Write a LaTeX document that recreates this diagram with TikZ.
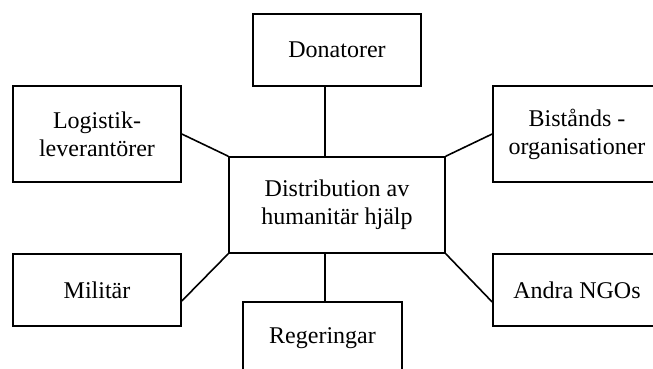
\documentclass[tikz,border=0pt]{standalone}
\usepackage{fontspec}
\setmainfont{Liberation Serif}
\begin{document}
\begin{tikzpicture}[x=0.5pt,y=-0.5pt,
  box/.style={draw=black,line width=0.8pt,fill=white,align=center,
    inner sep=0pt,font=\fontsize{12}{14}\selectfont},
  link/.style={draw=black,line width=0.8pt}]
  \useasboundingbox (0,0) rectangle (653,369);
  % actors around the central activity
  \node[box,minimum width=84pt,minimum height=36pt] (don) at (337,50) {Donatorer};
  \node[box,minimum width=84pt,minimum height=48pt] (log) at (97,134) {Logistik-\\leverantörer};
  \node[box,minimum width=84pt,minimum height=48pt] (bis) at (577,134) {Bistånds -\\organisationer};
  \node[box,minimum width=108pt,minimum height=48pt] (cen) at (337,205) {Distribution av\\humanitär hjälp};
  \node[box,minimum width=84pt,minimum height=36pt] (mil) at (97,290) {Militär};
  \node[box,minimum width=84pt,minimum height=36pt] (ngo) at (577,290) {Andra NGOs};
  \node[box,minimum width=79.5pt,minimum height=36pt] (reg) at (322.5,338) {Regeringar};
  % connectors to the central box
  \coordinate (ct) at ([xshift=-6pt]cen.north);
  \coordinate (cb) at ([xshift=-6pt]cen.south);
  \draw[link] (ct) -- (ct |- don.south);
  \draw[link] (cb) -- (cb |- reg.north);
  \draw[link] (log.east) -- (cen.north west);
  \draw[link] (bis.west) -- (cen.north east);
  \draw[link] ([yshift=-5.5pt]mil.east) -- (cen.south west);
  \draw[link] ([yshift=-6pt]ngo.west) -- (cen.south east);
\end{tikzpicture}
\end{document}
